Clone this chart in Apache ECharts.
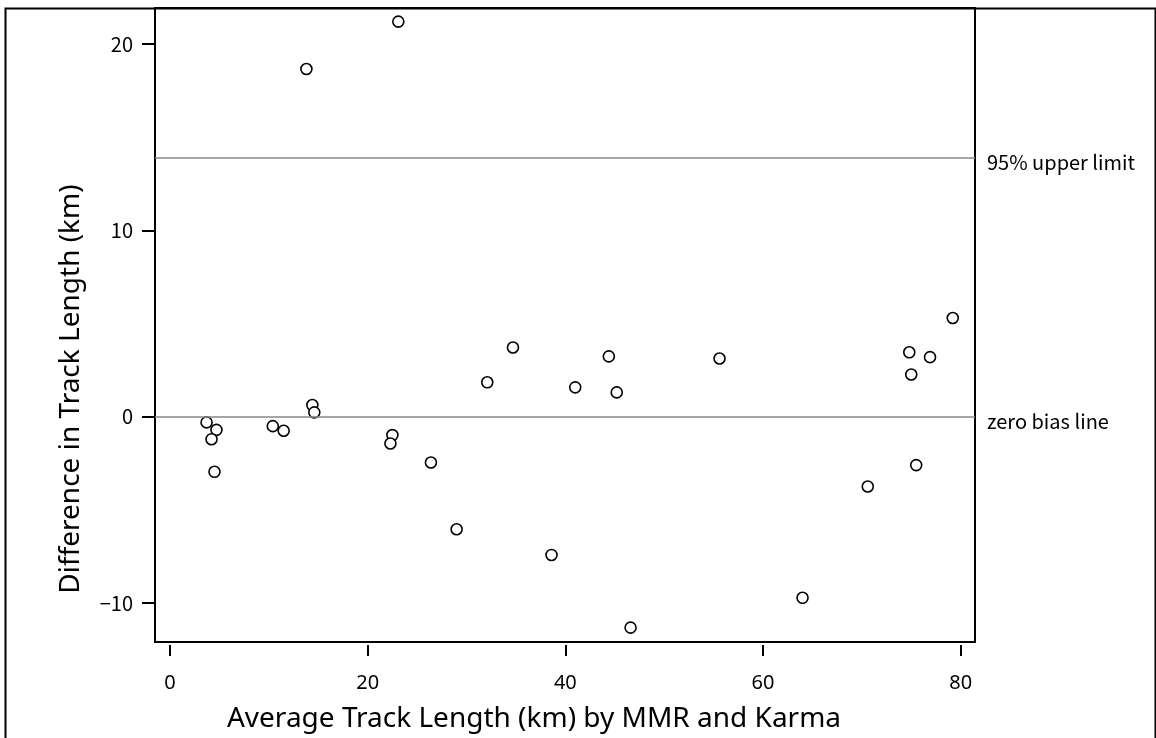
<!DOCTYPE html>
<html>
<head>
<meta charset="utf-8">
<script src="https://cdn.jsdelivr.net/npm/echarts@6/dist/echarts.min.js"></script>
<style>
html,body{margin:0;padding:0;background:#fff;}
#chart{width:1156px;height:738px;}
</style>
</head>
<body>
<div id="chart"></div>
<script>
// Data
const avgLength = [3.7, 4.7, 4.2, 4.5, 10.4, 11.5, 14.4, 14.6, 13.8, 23.1, 22.5, 22.3, 26.4, 29.0, 32.1, 34.7, 38.6, 41.0, 44.4, 45.2, 46.6, 55.6, 64.0, 70.6, 74.8, 75.0, 75.5, 76.9, 79.2];
const diffLength = [-0.3, -0.7, -1.2, -2.95, -0.5, -0.75, 0.63, 0.24, 18.66, 21.2, -0.98, -1.43, -2.45, -6.03, 1.85, 3.72, -7.41, 1.58, 3.24, 1.31, -11.31, 3.13, -9.71, -3.74, 3.46, 2.27, -2.59, 3.2, 5.3];
const xTicks = [0, 20, 40, 60, 80];
const yTicks = [-10, 0, 10, 20];
const refValues = [13.9, 0];
const refLabels = ['95% upper limit', 'zero bias line'];
const xTitle = 'Average Track Length (km) by MMR and Karma';
const yTitle = 'Difference in Track Length (km)';

const points = avgLength.map((x, i) => [x, diffLength[i]]);

const chart = echarts.init(document.getElementById('chart'), null, {renderer: 'canvas'});
chart.setOption({
  animation: false,
  backgroundColor: '#fff',
  graphic: [{
    type: 'rect',
    left: 3, top: 6,
    shape: {width: 1150, height: 760},
    style: {fill: 'none', stroke: '#000', lineWidth: 2},
    silent: true
  }],
  grid: {
    left: 155, right: 181, top: 8, bottom: 95,
    show: true, borderColor: '#000', borderWidth: 2, backgroundColor: 'transparent'
  },
  xAxis: {
    type: 'value',
    min: -1.52, max: 81.45,
    offset: 3,
    axisLine: {show: false, onZero: false},
    splitLine: {show: false},
    axisTick: {show: true, length: 11, lineStyle: {color: '#000', width: 2}, customValues: xTicks},
    axisLabel: {customValues: xTicks, margin: 28, color: '#000', fontFamily: 'Noto Sans', fontSize: 20},
    name: xTitle,
    nameLocation: 'middle',
    nameGap: 60,
    nameTextStyle: {color: '#000', fontFamily: 'Noto Sans', fontSize: 28, padding: [0, 62, 0, 0]}
  },
  yAxis: {
    type: 'value',
    min: -12.08, max: 21.93,
    axisLine: {show: true, onZero: false, lineStyle: {color: '#000', width: 2}},
    splitLine: {show: false},
    axisTick: {show: true, length: 13, lineStyle: {color: '#000', width: 2}, customValues: yTicks},
    axisLabel: {customValues: yTicks, margin: 22, color: '#000', fontFamily: 'Noto Sans CJK JP', fontSize: 20,
      formatter: v => String(v).replace('-', '\u2212')},
    name: yTitle,
    nameLocation: 'middle',
    nameGap: 70,
    nameTextStyle: {color: '#000', fontFamily: 'Noto Sans', fontSize: 28, padding: [0, 128, 0, 0]}
  },
  series: [{
    type: 'scatter',
    data: points,
    symbol: 'circle',
    symbolSize: 11,
    itemStyle: {color: '#fff', borderColor: '#000', borderWidth: 1.6, opacity: 1},
    markLine: {
      silent: true,
      symbol: 'none',
      lineStyle: {color: '#888888', width: 1.6, type: 'solid'},
      label: {
        show: true, position: 'end', distance: 12,
        color: '#000', fontFamily: 'Noto Sans CJK JP', fontSize: 20,
        lineHeight: 10,
        formatter: p => '\n' + p.name
      },
      data: refValues.map((v, i) => ({yAxis: v, name: refLabels[i]}))
    }
  }]
});
</script>
</body>
</html>
